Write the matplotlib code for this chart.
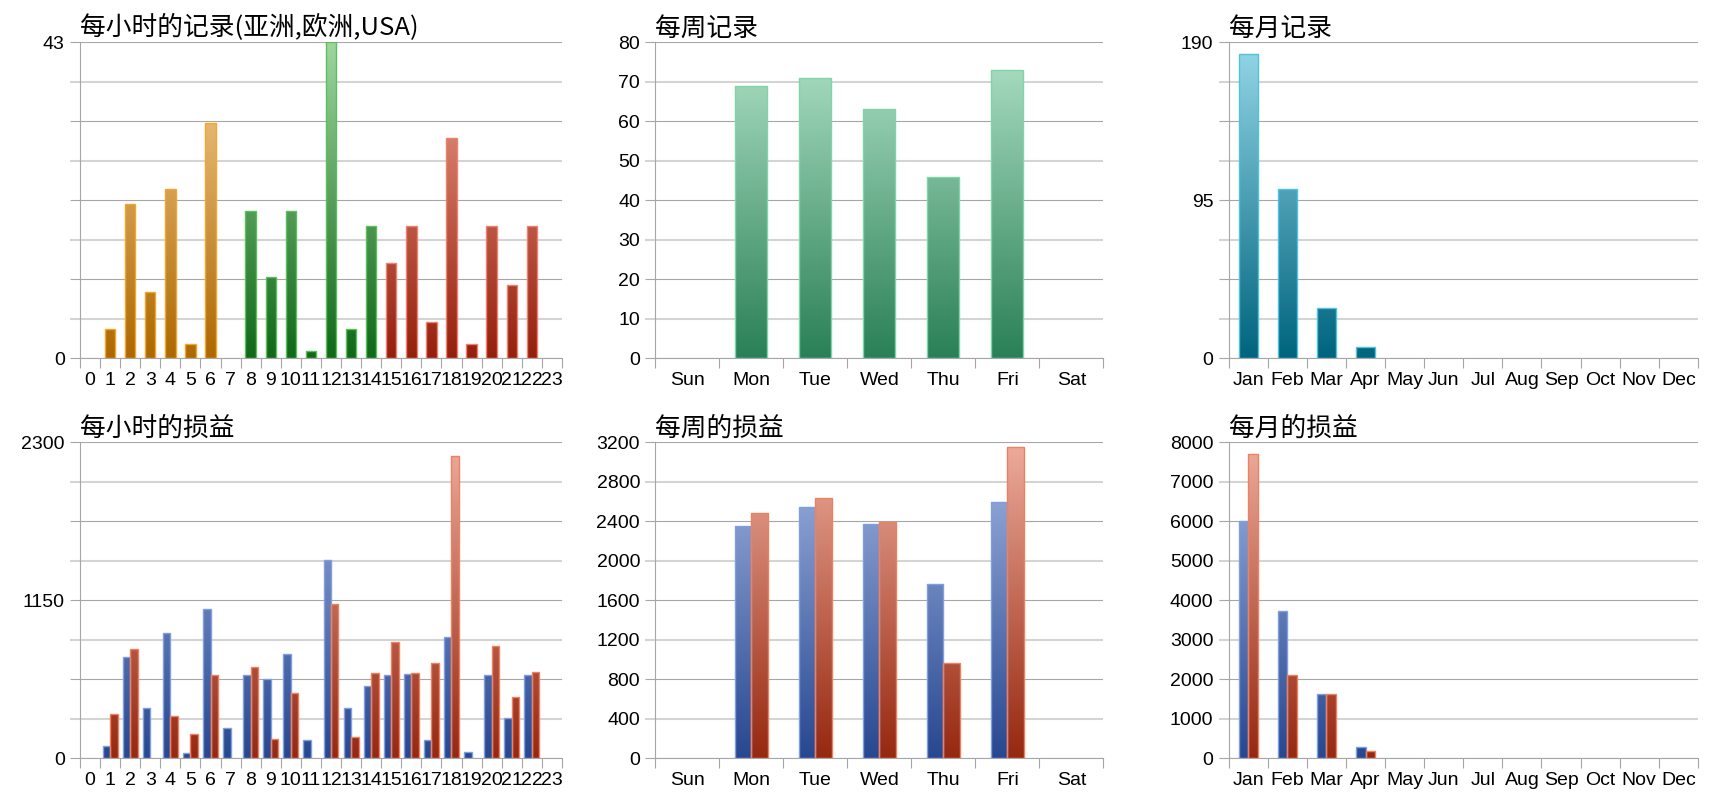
import numpy as np
import matplotlib
matplotlib.use("Agg")
import matplotlib.pyplot as plt
from matplotlib.colors import LinearSegmentedColormap
from matplotlib.ticker import FixedLocator, FixedFormatter

plt.rcParams['font.family'] = ['Liberation Sans', 'DejaVu Sans']
TITLE_FONT = ['Noto Sans CJK SC', 'DejaVu Sans']

# ---- data ----
hours = [str(h) for h in range(24)]
hour_region = ['亚洲'] * 8 + ['欧洲'] * 7 + ['USA'] * 9
hourly_records = [0, 4, 21, 9, 23, 2, 32, 0, 20, 11, 20, 1, 43, 4, 18, 13,
                  18, 5, 30, 2, 18, 10, 18, 0]
hourly_pl_blue = [0, 90, 738, 368, 915, 39, 1089, 222, 604, 575, 762, 132,
                  1444, 366, 529, 604, 614, 134, 883, 46, 607, 290, 604, 0]
hourly_pl_red = [0, 320, 793, 0, 309, 178, 607, 0, 662, 144, 475, 0,
                 1123, 154, 619, 847, 619, 694, 2203, 0, 815, 446, 626, 0]

weekdays = ['Sun', 'Mon', 'Tue', 'Wed', 'Thu', 'Fri', 'Sat']
weekly_records = [0, 69, 71, 63, 46, 73, 0]
weekly_pl_blue = [0, 2349, 2545, 2370, 1762, 2599, 0]
weekly_pl_red = [0, 2481, 2633, 2397, 969, 3153, 0]

months = ['Jan', 'Feb', 'Mar', 'Apr', 'May', 'Jun', 'Jul', 'Aug', 'Sep',
          'Oct', 'Nov', 'Dec']
monthly_records = [183, 102, 30, 7, 0, 0, 0, 0, 0, 0, 0, 0]
monthly_pl_blue = [6000, 3722, 1620, 290, 0, 0, 0, 0, 0, 0, 0, 0]
monthly_pl_red = [7713, 2101, 1637, 190, 0, 0, 0, 0, 0, 0, 0, 0]

# y tick labels (8 intervals, labels blank where the reference has none)
ylab_hour_rec = ['0', '', '', '', '', '', '', '', '43']
ylab_week_rec = ['0', '10', '20', '30', '40', '50', '60', '70', '80']
ylab_month_rec = ['0', '', '', '', '95', '', '', '', '190']
ylab_hour_pl = ['0', '', '', '', '1150', '', '', '', '2300']
ylab_week_pl = ['0', '400', '800', '1200', '1600', '2000', '2400', '2800', '3200']
ylab_month_pl = ['0', '1000', '2000', '3000', '4000', '5000', '6000', '7000', '8000']

# colours: (bottom, top, edge)
region_colors = {
    '亚洲': ('#ad6800', '#f7d29a', '#f5a52a'),
    '欧洲': ('#106818', '#9fd69f', '#5cbf5c'),
    'USA': ('#941f0c', '#f2a694', '#f08070'),
}
week_green = ('#2a8056', '#b0e2c8', '#80d4a8')
month_teal = ('#00647e', '#96d8e8', '#4ec3e0')
pl_blue = ('#274790', '#a2b6e2', '#7f9fdf')
pl_red = ('#962810', '#eeac9c', '#f08062')

DARK = '#a6a6a6'
LIGHT = '#d4d4d4'
TICK_SIZE = 14

grad = np.linspace(0, 1, 256).reshape(-1, 1)


def grad_bars(ax, x, h, width, colors, ymax):
    lo, hi, edge = colors
    cmap = LinearSegmentedColormap.from_list('g', [lo, hi])
    bars = ax.bar(x, h, width, facecolor='none', edgecolor=edge,
                  linewidth=1.0, zorder=3)
    for b in bars:
        if b.get_height() <= 0:
            b.set_linewidth(0)
            continue
        x0 = b.get_x()
        im = ax.imshow(grad, cmap=cmap, origin='lower', aspect='auto',
                       extent=[x0, x0 + b.get_width(), 0, ymax], zorder=2,
                       interpolation='bilinear')
        im.set_clip_path(b)
    return bars


def style(ax, xlabels, ylabels, ymax, title):
    n = len(xlabels)
    vals = np.linspace(0, ymax, len(ylabels))
    ax.yaxis.set_major_locator(FixedLocator(vals[0::2]))
    ax.yaxis.set_major_formatter(FixedFormatter(ylabels[0::2]))
    ax.yaxis.set_minor_locator(FixedLocator(vals[1::2]))
    ax.yaxis.set_minor_formatter(FixedFormatter(ylabels[1::2]))
    ax.tick_params(axis='y', which='major', length=7, width=0.8, color=DARK,
                   labelsize=TICK_SIZE, pad=4)
    ax.tick_params(axis='y', which='minor', length=7, width=1.5, color=LIGHT,
                   labelsize=TICK_SIZE, pad=4)
    ax.grid(which='major', axis='y', color=DARK, lw=0.8)
    ax.grid(which='minor', axis='y', color=LIGHT, lw=1.5)
    ax.set_axisbelow(True)

    ax.xaxis.set_major_locator(FixedLocator(range(n)))
    ax.xaxis.set_major_formatter(FixedFormatter(xlabels))
    ax.xaxis.set_minor_locator(FixedLocator(np.arange(n + 1) - 0.5))
    ax.tick_params(axis='x', which='major', length=0, labelsize=TICK_SIZE,
                   pad=10)
    ax.tick_params(axis='x', which='minor', length=7, width=0.8, color=DARK)

    ax.set_xlim(-0.5, n - 0.5)
    ax.set_ylim(0, ymax)
    for s in ['top', 'right']:
        ax.spines[s].set_visible(False)
    for s in ['left', 'bottom']:
        ax.spines[s].set_color(DARK)
        ax.spines[s].set_linewidth(0.8)
    ax.set_title(title, loc='left', family=TITLE_FONT, fontsize=18.5, pad=5)


fig = plt.figure(figsize=(17.2, 8), dpi=100)
cols = [(0.0465, 0.2802), (0.3810, 0.2605), (0.7144, 0.2727)]
rows = [0.5521, 0.0521]
H = 0.395
axs = [[fig.add_axes([c[0], r, c[1], H]) for c in cols] for r in rows]

# hourly records
ax = axs[0][0]
x = np.arange(len(hours))
for reg in region_colors:
    idx = [i for i, r in enumerate(hour_region) if r == reg]
    grad_bars(ax, x[idx], [hourly_records[i] for i in idx], 0.52,
              region_colors[reg], 43)
style(ax, hours, ylab_hour_rec, 43, '每小时的记录(亚洲,欧洲,USA)')

# weekly records
ax = axs[0][1]
grad_bars(ax, np.arange(len(weekdays)), weekly_records, 0.5, week_green, 80)
style(ax, weekdays, ylab_week_rec, 80, '每周记录')

# monthly records
ax = axs[0][2]
grad_bars(ax, np.arange(len(months)), monthly_records, 0.5, month_teal, 190)
style(ax, months, ylab_month_rec, 190, '每月记录')

# hourly P&L
ax = axs[1][0]
w = 0.37
grad_bars(ax, x - w / 2, hourly_pl_blue, w, pl_blue, 2300)
grad_bars(ax, x + w / 2, hourly_pl_red, w, pl_red, 2300)
style(ax, hours, ylab_hour_pl, 2300, '每小时的损益')

# weekly P&L
ax = axs[1][1]
xw = np.arange(len(weekdays))
w = 0.26
grad_bars(ax, xw - w / 2, weekly_pl_blue, w, pl_blue, 3200)
grad_bars(ax, xw + w / 2, weekly_pl_red, w, pl_red, 3200)
style(ax, weekdays, ylab_week_pl, 3200, '每周的损益')

# monthly P&L
ax = axs[1][2]
xm = np.arange(len(months))
w = 0.25
grad_bars(ax, xm - w / 2, monthly_pl_blue, w, pl_blue, 8000)
grad_bars(ax, xm + w / 2, monthly_pl_red, w, pl_red, 8000)
style(ax, months, ylab_month_pl, 8000, '每月的损益')

fig.savefig('out.png', dpi=100)
